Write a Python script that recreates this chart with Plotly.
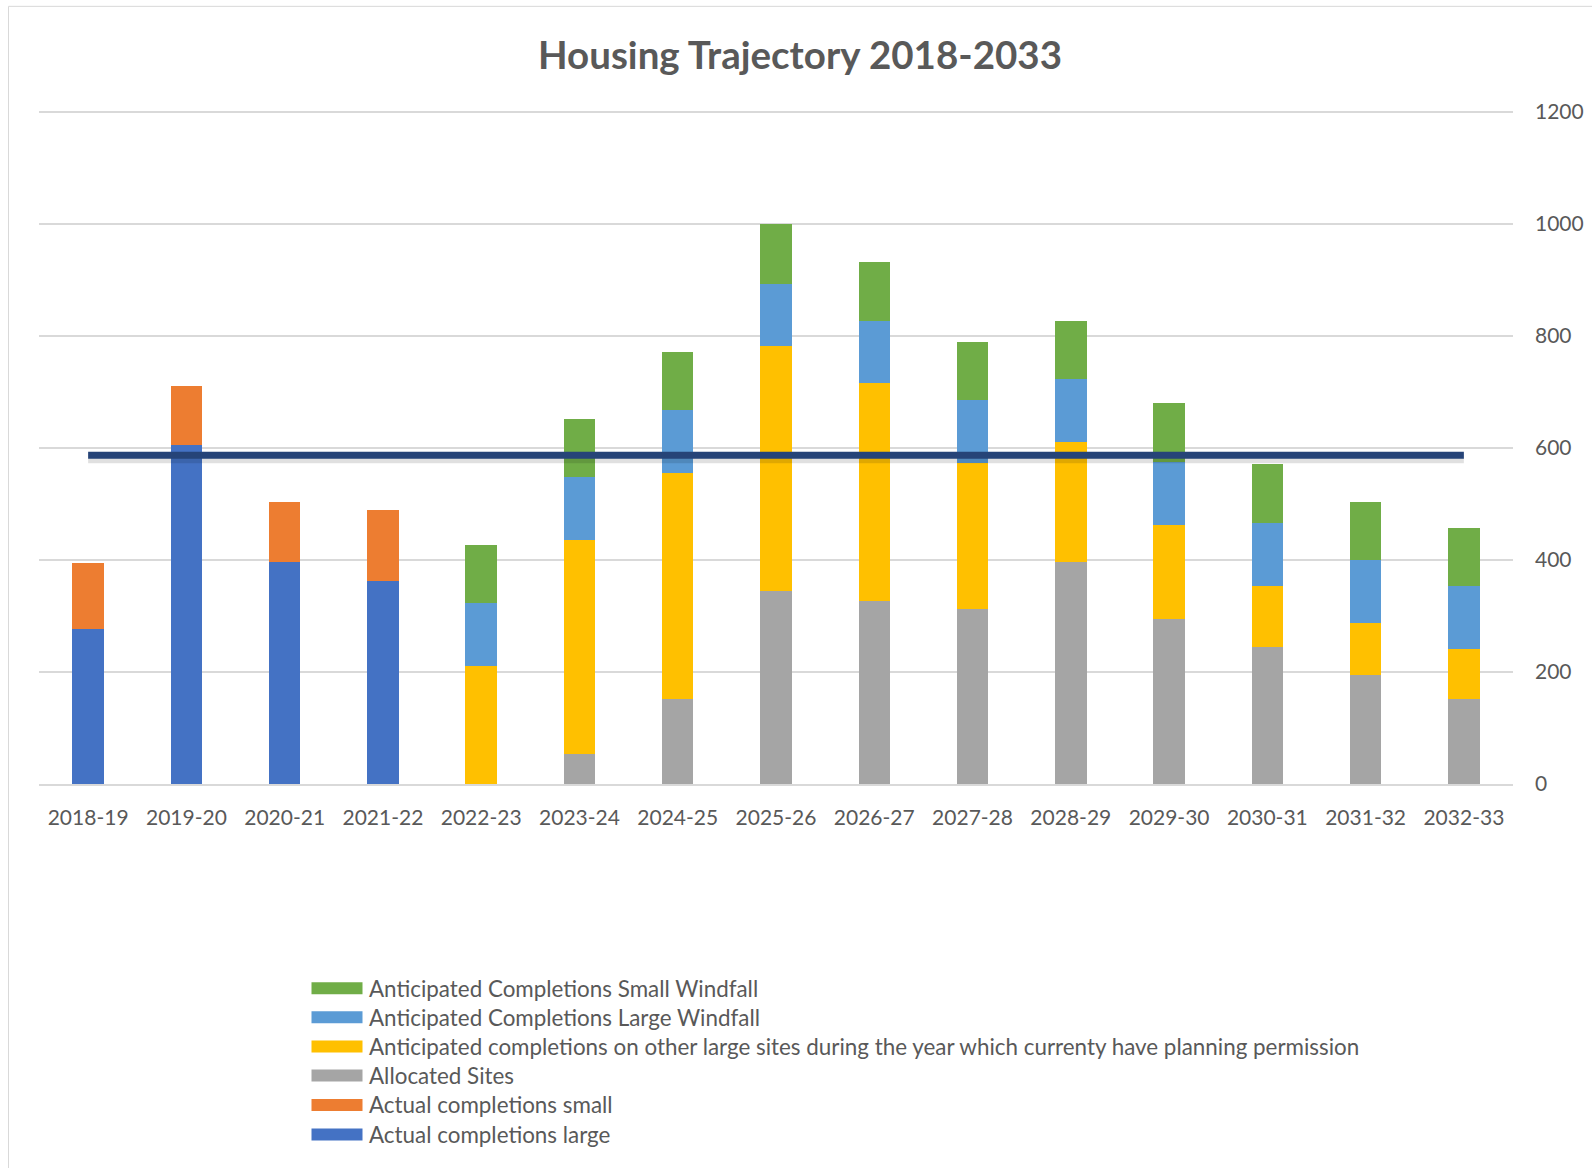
import plotly.graph_objects as go

# ---------------- data ----------------
years = ["2018-19", "2019-20", "2020-21", "2021-22", "2022-23", "2023-24", "2024-25",
         "2025-26", "2026-27", "2027-28", "2028-29", "2029-30", "2030-31", "2031-32", "2032-33"]
actual_large = [276, 605, 397, 363, 0, 0, 0, 0, 0, 0, 0, 0, 0, 0, 0]
actual_small = [119, 106, 107, 127, 0, 0, 0, 0, 0, 0, 0, 0, 0, 0, 0]
allocated = [0, 0, 0, 0, 0, 54, 151, 345, 326, 313, 397, 295, 244, 195, 151]
other_large = [0, 0, 0, 0, 211, 382, 405, 437, 390, 260, 214, 168, 110, 93, 90]
large_windfall = [0, 0, 0, 0, 112, 113, 112, 111, 111, 113, 113, 113, 112, 112, 113]
small_windfall = [0, 0, 0, 0, 104, 103, 104, 107, 105, 104, 103, 105, 106, 104, 103]
target = 587
y_ticks = [0, 200, 400, 600, 800, 1000, 1200]

series = [
    ("Actual completions large", actual_large, "#4472C4"),
    ("Actual completions small", actual_small, "#ED7D31"),
    ("Allocated Sites", allocated, "#A5A5A5"),
    ("Anticipated completions on other large sites during the year which currenty have planning permission",
     other_large, "#FFC000"),
    ("Anticipated Completions Large Windfall", large_windfall, "#5B9BD5"),
    ("Anticipated Completions Small Windfall", small_windfall, "#70AD47"),
]

# ---------------- layout geometry (pixels) ----------------
W, H = 1592, 1168
L, R, T, B = 39, 1513, 112, 784
FONT = "Lato, Open Sans, sans-serif"
TXT = "#595959"


def px_x(x):
    return (x - L) / (R - L)


def px_y(y):
    return (B - y) / (B - T)


fig = go.Figure()
for name, vals, col in series:
    fig.add_trace(go.Bar(x=years, y=vals, name=name, marker=dict(color=col, line=dict(width=0)),
                         showlegend=False))

# target line (shadow + line)
fig.add_trace(go.Scatter(x=[years[0], years[-1]], y=[target - 5, target - 5], mode="lines",
                         line=dict(color="rgba(0,0,0,0.12)", width=10), showlegend=False,
                         hoverinfo="skip"))
fig.add_trace(go.Scatter(x=[years[0], years[-1]], y=[target, target], mode="lines",
                         line=dict(color="#264478", width=7), showlegend=False))

shapes = []
annotations = []
# chart border
shapes.append(dict(type="rect", xref="paper", yref="paper",
                   x0=px_x(8.5), x1=px_x(1640), y0=px_y(1220), y1=px_y(7.5),
                   line=dict(color="#d9d9d9", width=1), fillcolor="rgba(0,0,0,0)", layer="below"))

# custom legend (reverse order, top = small windfall)
leg_y = [988, 1017, 1046, 1075, 1104.5, 1134]
for i, (name, vals, col) in enumerate(reversed(series)):
    yc = leg_y[i]
    shapes.append(dict(type="rect", xref="paper", yref="paper",
                       x0=px_x(311.5), x1=px_x(362.5), y0=px_y(yc + 6), y1=px_y(yc - 6),
                       line=dict(width=0), fillcolor=col))
    annotations.append(dict(text=name, xref="paper", yref="paper", x=px_x(367), y=px_y(yc),
                            xanchor="left", yanchor="middle", showarrow=False,
                            font=dict(family=FONT, size=22.4, color=TXT)))

fig.update_layout(
    width=W, height=H,
    margin=dict(l=L, r=W - R, t=T - 1, b=H - B, pad=0, autoexpand=False),
    paper_bgcolor="white", plot_bgcolor="white",
    barmode="stack", bargap=0.68,
    title=dict(text="<b>Housing Trajectory 2018-2033</b>", x=800 / W, y=1 - 56 / H,
               xanchor="center", yanchor="middle",
               font=dict(family=FONT, size=38.5, color=TXT)),
    font=dict(family=FONT, color=TXT),
    xaxis=dict(type="category", range=[-0.5, len(years) - 0.5], showgrid=False,
               showline=True, linecolor="#d9d9d9", linewidth=2, ticks="", automargin=False,
               tickfont=dict(family=FONT, size=21, color=TXT), ticklabelstandoff=14),
    yaxis=dict(side="right", range=[0, 1202], tickvals=y_ticks, showgrid=True,
               gridcolor="#d9d9d9", gridwidth=1.5, zeroline=False, showline=False, ticks="",
               automargin=False,
               tickfont=dict(family=FONT, size=21, color=TXT), ticklabelstandoff=21),
    shapes=shapes, annotations=annotations,
    showlegend=False,
)

fig.write_html("out.html", config={"displayModeBar": False},
               post_script="document.body.style.margin='0';")
